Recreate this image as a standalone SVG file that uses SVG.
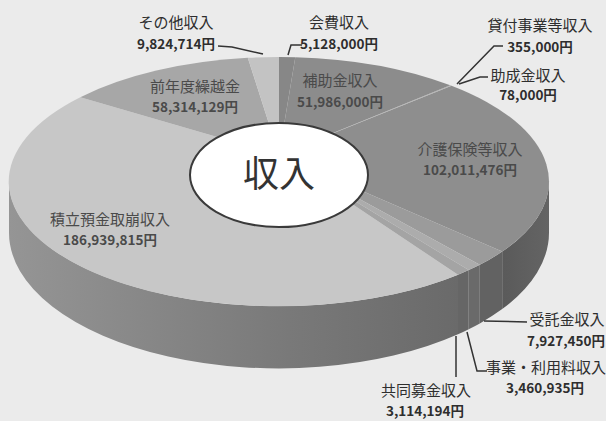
<svg xmlns="http://www.w3.org/2000/svg" width="606" height="421" viewBox="0 0 606 421">
<defs>
<linearGradient id="sideG" x1="0" y1="0" x2="1" y2="0">
<stop offset="0" stop-color="#959595"/>
<stop offset="0.6" stop-color="#7a7a7a"/>
<stop offset="1" stop-color="#6a6a6a"/>
</linearGradient>
<linearGradient id="sideD" x1="0" y1="0" x2="1" y2="0">
<stop offset="0" stop-color="#5a5a5a"/>
<stop offset="1" stop-color="#646464"/>
</linearGradient>
</defs>
<style>
.lab{font-family:"Noto Sans CJK JP","Noto Sans",sans-serif;font-size:15px;text-anchor:middle;fill:#2e2e2e}
.in{fill:#4a4a4a}
.num{font-weight:bold;font-size:13.5px}
.lead{fill:none;stroke:#333333;stroke-width:1.5}
.title{font-family:"Noto Sans CJK JP","Noto Sans",sans-serif;font-size:36px;text-anchor:middle;fill:#333333}
</style>
<rect width="606" height="421" fill="#ebebeb"/>

<g id="slice-tsumitate">
<path d="M458,274.8 L458,334.3 A270 135.6 0 0 1 9,232.8 L9,181.55 A270 124.55 0 0 0 458,274.8 Z" fill="url(#sideG)"/>
<path d="M279,155 L458,274.8 A270 124.55 0 0 1 80.3,97.2 Z" fill="#c7c7c7"/>
<text class="lab in" x="110" y="225">積立預金取崩収入</text>
<text class="lab in num" x="110" y="245">186,939,815円</text>
</g>

<g id="slice-kaigo">
<path d="M549,181.55 L549,232.8 A270 135.6 0 0 1 502.2,309.1 L502.2,251.6 A270 124.55 0 0 0 549,181.55 Z" fill="url(#sideD)"/>
<path d="M279,155 L451.5,85.7 A270 124.55 0 0 1 502.2,251.6 Z" fill="#8e8e8e"/>
<text class="lab in" x="470" y="155">介護保険等収入</text>
<text class="lab in num" x="470" y="175">102,011,476円</text>
</g>

<g id="slice-jutaku">
<path d="M502.2,251.6 L502.2,309.1 A270 135.6 0 0 1 479.8,323.4 L479.8,264.8 A270 124.55 0 0 0 502.2,251.6 Z" fill="#626262"/>
<path d="M279,155 L502.2,251.6 A270 124.55 0 0 1 479.8,264.8 Z" fill="#9b9b9b"/>
<text class="lab" x="567" y="325">受託金収入</text>
<text class="lab num" x="566" y="346">7,927,450円</text>
</g>

<g id="slice-jigyo">
<path d="M479.8,264.8 L479.8,323.4 A270 135.6 0 0 1 468.7,329.2 L468.7,270.1 A270 124.55 0 0 0 479.8,264.8 Z" fill="#6a6a6a"/>
<path d="M279,155 L479.8,264.8 A270 124.55 0 0 1 468.7,270.1 Z" fill="#acacac"/>
<text class="lab" x="546" y="373">事業・利用料収入</text>
<text class="lab num" x="545" y="393">3,460,935円</text>
</g>

<g id="slice-kyodo">
<path d="M468.7,270.1 L468.7,329.2 A270 135.6 0 0 1 458,334.3 L458,274.8 A270 124.55 0 0 0 468.7,270.1 Z" fill="#666666"/>
<path d="M279,155 L468.7,270.1 A270 124.55 0 0 1 458,274.8 Z" fill="#a4a4a4"/>
<text class="lab" x="426" y="396">共同募金収入</text>
<text class="lab num" x="425" y="416">3,114,194円</text>
</g>

<g id="slice-kaihi">
<path d="M279,155 L279,57 A270 124.55 0 0 1 295.3,57.2 Z" fill="#878787"/>
<text class="lab" x="339" y="28">会費収入</text>
<text class="lab num" x="339" y="49">5,128,000円</text>
</g>

<g id="slice-hojo">
<path d="M279,155 L295.3,57.2 A270 124.55 0 0 1 450.3,85.3 Z" fill="#8c8c8c"/>
<text class="lab in" x="340" y="86">補助金収入</text>
<text class="lab in num" x="340" y="107">51,986,000円</text>
</g>

<g id="slice-kashitsuke">
<path d="M279,155 L450.3,85.3 A270 124.55 0 0 1 451.3,85.6 Z" fill="#a2a2a2"/>
<text class="lab" x="540" y="31">貸付事業等収入</text>
<text class="lab num" x="540" y="52">355,000円</text>
</g>

<g id="slice-josei">
<path d="M279,155 L451.3,85.6 A270 124.55 0 0 1 451.5,85.7 Z" fill="#b0b0b0"/>
<text class="lab" x="528" y="81">助成金収入</text>
<text class="lab num" x="528" y="100">78,000円</text>
</g>

<g id="slice-zennendo">
<path d="M279,155 L80.3,97.2 A270 124.55 0 0 1 247.8,57.8 Z" fill="#a7a7a7"/>
<text class="lab in" x="195" y="92">前年度繰越金</text>
<text class="lab in num" x="195" y="112">58,314,129円</text>
</g>

<g id="slice-sonota">
<path d="M279,155 L247.8,57.8 A270 124.55 0 0 1 279,57 Z" fill="#c3c3c3"/>
<text class="lab" x="176" y="28">その他収入</text>
<text class="lab num" x="176" y="49">9,824,714円</text>
</g>

<g id="center-label">
<ellipse cx="279" cy="175" rx="89" ry="52" fill="#ffffff" stroke="#3a3a3a" stroke-width="2"/>
<text class="title" x="279" y="187">収入</text>
</g>

<g id="connectors">
<polyline class="lead" points="218,46 232,47 263,54"/>
<polyline class="lead" points="302,45 291,45 288,55"/>
<polyline class="lead" points="503,46 494,46 457,84"/>
<polyline class="lead" points="488,77 480,77 459,84"/>
<polyline class="lead" points="484,321 527,322"/>
<polyline class="lead" points="467,332 477,371 487,371"/>
<polyline class="lead" points="456,336 456,377"/>
</g>
</svg>
